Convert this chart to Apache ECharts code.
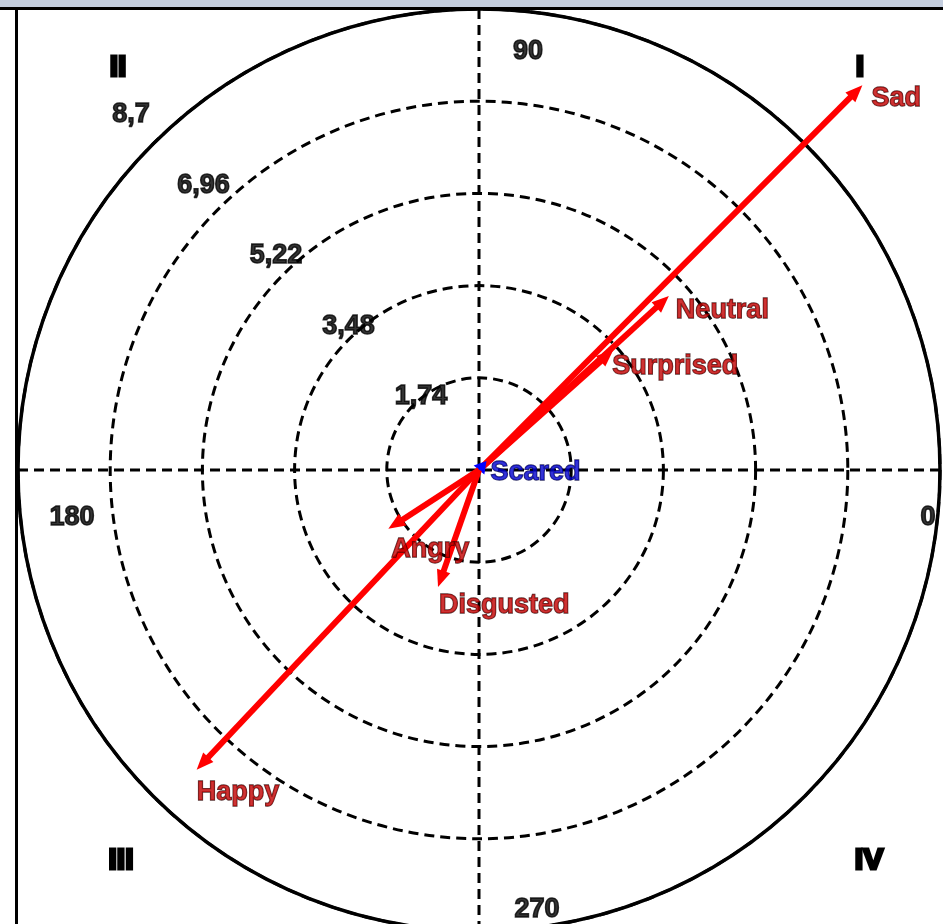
<!DOCTYPE html>
<html><head><meta charset="utf-8">
<script src="https://cdn.jsdelivr.net/npm/echarts@6/dist/echarts.min.js"></script>
<style>html,body{margin:0;padding:0;background:#fff}#c{width:943px;height:924px}</style>
</head><body><div id="c"></div>
<script>
// ---- data ----
const emotions   = ['Sad', 'Neutral', 'Surprised', 'Scared', 'Angry', 'Disgusted', 'Happy'];
const magnitudes = [10.25, 4.86, 3.40, 0.22, 2.04, 2.34, 7.77];
const angles     = [45.1, 42.5, 41.8, 50, 213, 250.7, 226.7];
const radiusTicks      = [1.74, 3.48, 5.22, 6.96, 8.7];
const radiusTickLabels = ['1,74', '3,48', '5,22', '6,96', '8,7'];
const angleTicks       = [0, 90, 180, 270];
const angleTickLabels  = ['0', '90', '180', '270'];
const quadrantLabels   = ['I', 'II', 'III', 'IV'];

// ---- styling ----
const FONT = 'Liberation Sans, Arial, sans-serif';
const RED = '#ff0000', BLUE = '#0000ff';
const vecColor = n => n === 'Scared' ? BLUE : RED;
const textColor = n => n === 'Scared' ? '#0000cc' : '#c00000';
const textEdge = n => n === 'Scared' ? '#000044' : '#300000';
const labelOffsets = {
  Sad: [9, 13], Neutral: [7, 15], Surprised: [-1, 17], Scared: [4, 11],
  Angry: [3, 21], Disgusted: [1, 19], Happy: [0, 23]
};
const angleLabelOffsets = [[-12, 48], [49, 43], [54, 48], [58, -21]];
const quadrantPos = [[860, 68], [118, 68], [121, 861], [869, 861]];

const chart = echarts.init(document.getElementById('c'), null, {renderer: 'canvas'});

const baseLabel = {show: true, position: 'inside', fontFamily: FONT, fontWeight: 'bold', fontSize: 27};
const dashed = {color: '#000', width: 3, type: [10, 6]};

const option = {
  backgroundColor: '#fff',
  animation: false,
  polar: {center: [479, 470], radius: 461},
  radiusAxis: {
    type: 'value', min: 0, max: 8.7, interval: 1.74,
    axisLine: {show: false}, axisTick: {show: false}, axisLabel: {show: false},
    splitLine: {show: true, lineStyle: dashed}
  },
  angleAxis: {
    type: 'value', min: 0, max: 360, interval: 90, startAngle: 0, clockwise: false,
    axisLine: {show: true, lineStyle: {color: '#000', width: 3.5}},
    axisTick: {show: false}, axisLabel: {show: false},
    splitLine: {show: true, lineStyle: dashed}
  },
  series: [
    {
      type: 'custom', name: 'vectors', coordinateSystem: 'polar', clip: false, silent: true, z: 5,
      data: emotions.map((n, i) => [magnitudes[i], angles[i]]),
      renderItem: (params, api) => {
        const r = api.value(0), a = api.value(1);
        const p0 = api.coord([0, a]);
        const p1 = api.coord([r, a]);
        const dx = p1[0] - p0[0], dy = p1[1] - p0[1];
        const len = Math.hypot(dx, dy) || 1;
        const ux = dx / len, uy = dy / len;
        const headL = Math.min(17, len), headW = 7;
        const bx = p1[0] - ux * headL, by = p1[1] - uy * headL;
        const color = vecColor(emotions[params.dataIndex]);
        return {
          type: 'group', children: [
            {type: 'line', shape: {x1: p0[0], y1: p0[1], x2: bx + ux * 2, y2: by + uy * 2},
             style: {stroke: color, lineWidth: 6, lineCap: 'butt'}},
            {type: 'polygon', shape: {points: [[p1[0], p1[1]], [bx - uy * headW, by + ux * headW], [bx + uy * headW, by - ux * headW]]},
             style: {fill: color}}
          ]
        };
      }
    },
    {
      type: 'scatter', name: 'vectorLabels', coordinateSystem: 'polar', clip: false, silent: true,
      symbolSize: 1, itemStyle: {color: 'rgba(0,0,0,0)'}, z: 6,
      label: Object.assign({}, baseLabel, {align: 'left', verticalAlign: 'middle', formatter: '{b}'}),
      data: emotions.map((n, i) => ({
        name: n, value: [magnitudes[i], angles[i]],
        label: {offset: labelOffsets[n], color: textColor(n), textBorderColor: textEdge(n), textBorderWidth: 1.3}
      }))
    },
    {
      type: 'scatter', name: 'radiusLabels', coordinateSystem: 'polar', clip: false, silent: true,
      symbolSize: 1, itemStyle: {color: 'rgba(0,0,0,0)'}, z: 6,
      label: Object.assign({}, baseLabel, {align: 'center', verticalAlign: 'middle', color: '#000',
        textBorderColor: '#000', textBorderWidth: 1.5, formatter: p => radiusTickLabels[p.dataIndex]}),
      data: radiusTicks.map((v, i) => {
        const k = i + 1;
        return {value: [v, 135], label: {offset: [14.5 - 7.3 * k, -2.5 - 5.3 * k]}};
      })
    },
    {
      type: 'scatter', name: 'angleLabels', coordinateSystem: 'polar', clip: false, silent: true,
      symbolSize: 1, itemStyle: {color: 'rgba(0,0,0,0)'}, z: 6,
      label: Object.assign({}, baseLabel, {align: 'center', verticalAlign: 'middle', color: '#000',
        textBorderColor: '#000', textBorderWidth: 1.5, formatter: p => angleTickLabels[p.dataIndex]}),
      data: angleTicks.map((a, i) => ({value: [8.7, a], label: {offset: angleLabelOffsets[i]}}))
    }
  ],
  graphic: [
    {type: 'rect', shape: {x: 0, y: 0, width: 943, height: 7}, style: {fill: '#c4cedf'}, z: 100},
    {type: 'rect', shape: {x: 0, y: 7, width: 943, height: 3}, style: {fill: '#000'}, z: 100},
    {type: 'rect', shape: {x: 15, y: 7, width: 3, height: 917}, style: {fill: '#000'}, z: 100},
    ...quadrantLabels.map((t, i) => ({
      type: 'text', x: quadrantPos[i][0], y: quadrantPos[i][1], z: 100,
      style: {text: t, fill: '#000', stroke: '#000', lineWidth: 3, font: 'bold 30px ' + FONT, textAlign: 'center', textVerticalAlign: 'middle'}
    }))
  ]
};
chart.setOption(option);
</script>
</body></html>
